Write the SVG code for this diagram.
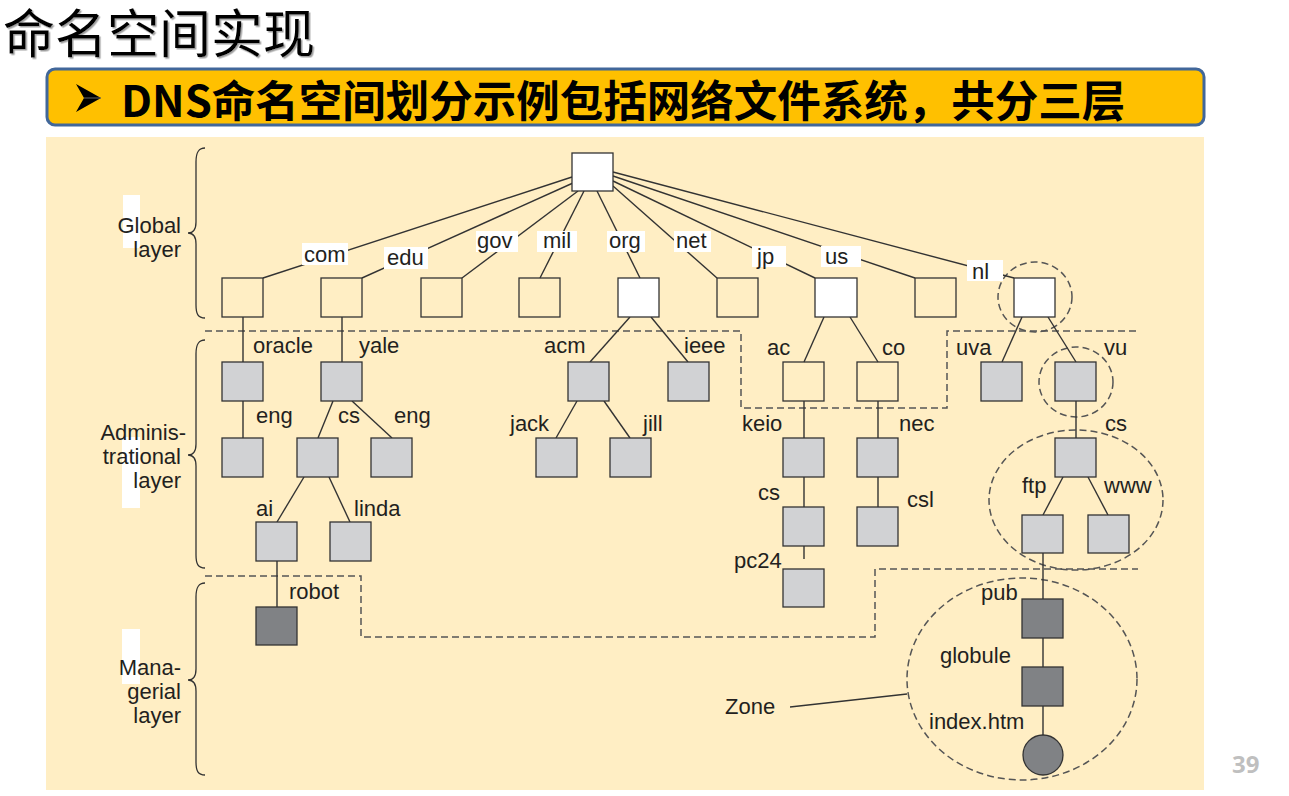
<svg xmlns="http://www.w3.org/2000/svg" width="1289" height="796" viewBox="0 0 1289 796">
  <defs>
    <style>
      .lbl { font-family: "Liberation Sans", Arial, sans-serif; font-size: 22px; fill: #231f20; }
      .lay { font-family: "Liberation Sans", Arial, sans-serif; font-size: 22px; fill: #231f20; text-anchor: end; }
      .bx { stroke: #333; stroke-width: 1.3; }
      .w { fill: #ffffff; }
      .e { fill: none; }
      .g { fill: #d1d2d4; }
      .d { fill: #808285; }
      .cn { stroke: #333; stroke-width: 1.4; fill: none; }
      .dash { stroke: #555; stroke-width: 1.5; fill: none; stroke-dasharray: 7 4; }
      .brace { stroke: #333; stroke-width: 1.3; fill: none; }
      .hl { fill: #ffffff; }
    </style>
    <filter id="shadow" x="-5%" y="-5%" width="110%" height="120%">
      <feDropShadow dx="1.5" dy="1.5" stdDeviation="0.6" flood-color="#888" flood-opacity="0.8"/>
    </filter>
  </defs>

  <rect x="0" y="0" width="1289" height="796" fill="#ffffff"/>

  <!-- slide heading -->
  <text x="3" y="53" font-family="Noto Sans CJK SC, sans-serif" font-size="52" fill="#000" filter="url(#shadow)">命名空间实现</text>

  <!-- banner -->
  <g id="banner">
    <rect x="47" y="69" width="1157" height="56" rx="8" fill="#ffc000" stroke="#41679a" stroke-width="3"/>
    <!-- bullet arrowhead -->
    <polygon points="76,84 101,98 76,112 84,98" fill="#000"/>
    <polyline points="84,98 101,98" stroke="#666" stroke-width="1" fill="none"/>
    <text x="121" y="117" font-family="Noto Sans CJK SC, sans-serif" font-size="43.5" font-weight="bold" fill="#000">DNS命名空间划分示例包括网络文件系统，共分三层</text>
  </g>

  <!-- diagram panel -->
  <rect x="46" y="137" width="1158" height="653" fill="#ffeec4"/>

  <!-- layer captions -->
  <g id="layer-labels">
    <rect class="hl" x="123" y="195" width="17" height="53"/>
    <rect class="hl" x="122" y="437" width="18" height="71"/>
    <rect class="hl" x="122" y="629" width="18" height="55"/>
    <text class="lay" x="181" y="233">Global</text>
    <text class="lay" x="181" y="257">layer</text>
    <text class="lay" x="186" y="440">Adminis-</text>
    <text class="lay" x="181" y="464">trational</text>
    <text class="lay" x="181" y="488">layer</text>
    <text class="lay" x="181" y="675">Mana-</text>
    <text class="lay" x="181" y="699">gerial</text>
    <text class="lay" x="181" y="723">layer</text>
    <path class="brace" d="M205,148 C198,148 196,153 196,162 L196,222 C196,229 194,233 188,233 C194,233 196,237 196,244 L196,305 C196,314 198,318 205,318"/>
    <path class="brace" d="M205,340 C198,340 196,345 196,354 L196,444 C196,451 194,455 188,455 C194,455 196,459 196,466 L196,555 C196,564 198,568 205,568"/>
    <path class="brace" d="M205,583 C198,583 196,588 196,597 L196,669 C196,676 194,680 188,680 C194,680 196,684 196,691 L196,762 C196,771 198,775 205,775"/>
  </g>

  <!-- layer boundaries and zones -->
  <g id="boundaries">
    <path class="dash" d="M205,331 L741,331 L741,408 L947,408 L947,331 L1138,331"/>
    <path class="dash" d="M205,576 L361,576 L361,637 L875,637 L875,569 L1138,569"/>
    <ellipse class="dash" cx="1035" cy="297" rx="37" ry="35"/>
    <ellipse class="dash" cx="1076" cy="382" rx="37" ry="35"/>
    <ellipse class="dash" cx="1076" cy="500" rx="87" ry="70"/>
    <ellipse class="dash" cx="1022" cy="679" rx="115" ry="101"/>
  </g>

  <!-- connectors -->
  <g id="connectors">
    <path class="cn" d="M572,177 L263,278"/>
    <path class="cn" d="M573,183 L362,278"/>
    <path class="cn" d="M578,191 L462,278"/>
    <path class="cn" d="M584,191 L540,278"/>
    <path class="cn" d="M597,191 L640,278"/>
    <path class="cn" d="M613,186 L717,278"/>
    <path class="cn" d="M613,181 L815,278"/>
    <path class="cn" d="M613,176 L915,278"/>
    <path class="cn" d="M613,172 L1014,278"/>
    <path class="cn" d="M243,317 L243,362"/>
    <path class="cn" d="M342,317 L342,362"/>
    <path class="cn" d="M243,401 L243,438"/>
    <path class="cn" d="M333,401 L318,438"/>
    <path class="cn" d="M352,401 L392,438"/>
    <path class="cn" d="M304,477 L277,522"/>
    <path class="cn" d="M329,477 L350,522"/>
    <path class="cn" d="M277,561 L277,607"/>
    <path class="cn" d="M630,317 L590,362"/>
    <path class="cn" d="M651,317 L688,362"/>
    <path class="cn" d="M577,401 L556,438"/>
    <path class="cn" d="M604,401 L630,438"/>
    <path class="cn" d="M824,317 L804,362"/>
    <path class="cn" d="M850,317 L878,362"/>
    <path class="cn" d="M804,401 L804,438"/>
    <path class="cn" d="M878,401 L878,438"/>
    <path class="cn" d="M804,477 L804,507"/>
    <path class="cn" d="M878,477 L878,507"/>
    <path class="cn" d="M804,546 L804,559"/>
    <path class="cn" d="M1022,317 L1002,362"/>
    <path class="cn" d="M1048,317 L1076,362"/>
    <path class="cn" d="M1076,401 L1076,438"/>
    <path class="cn" d="M1063,477 L1043,515"/>
    <path class="cn" d="M1088,477 L1108,515"/>
    <path class="cn" d="M1043,553 L1043,599"/>
    <path class="cn" d="M1043,638 L1043,667"/>
    <path class="cn" d="M1043,706 L1043,735"/>
    <path class="cn" d="M790,707 L907,694"/>
  </g>

  <!-- top-level domain labels with white backing -->
  <g id="tld-labels">
    <rect class="hl" x="302" y="243" width="46" height="22"/>
    <text class="lbl" x="304" y="262">com</text>
    <rect class="hl" x="384" y="247" width="44" height="22"/>
    <text class="lbl" x="387" y="265">edu</text>
    <rect class="hl" x="476" y="231" width="42" height="21"/>
    <text class="lbl" x="477" y="248">gov</text>
    <rect class="hl" x="537" y="231" width="40" height="21"/>
    <text class="lbl" x="543" y="248">mil</text>
    <rect class="hl" x="607" y="231" width="38" height="21"/>
    <text class="lbl" x="609" y="248">org</text>
    <rect class="hl" x="674" y="231" width="37" height="21"/>
    <text class="lbl" x="676" y="248">net</text>
    <rect class="hl" x="752" y="246" width="34" height="21"/>
    <text class="lbl" x="757" y="264">jp</text>
    <rect class="hl" x="821" y="246" width="40" height="21"/>
    <text class="lbl" x="825" y="264">us</text>
    <rect class="hl" x="967" y="260" width="36" height="21"/>
    <text class="lbl" x="972" y="279">nl</text>
  </g>

  <!-- nodes -->
  <g id="root"><rect class="bx w" x="572" y="153" width="41" height="38"/></g>
  <g id="n-com"><rect class="bx e" x="222" y="278" width="41" height="39"/></g>
  <g id="n-edu"><rect class="bx e" x="321" y="278" width="41" height="39"/></g>
  <g id="n-gov"><rect class="bx e" x="421" y="278" width="41" height="39"/></g>
  <g id="n-mil"><rect class="bx e" x="519" y="278" width="41" height="39"/></g>
  <g id="n-org"><rect class="bx w" x="618" y="278" width="41" height="39"/></g>
  <g id="n-net"><rect class="bx e" x="717" y="278" width="41" height="39"/></g>
  <g id="n-jp"><rect class="bx w" x="815" y="278" width="42" height="39"/></g>
  <g id="n-us"><rect class="bx e" x="915" y="278" width="41" height="39"/></g>
  <g id="n-nl"><rect class="bx w" x="1014" y="278" width="41" height="39"/></g>

  <g id="n-oracle"><rect class="bx g" x="222" y="362" width="41" height="39"/><text class="lbl" x="253" y="353">oracle</text></g>
  <g id="n-yale"><rect class="bx g" x="321" y="362" width="41" height="39"/><text class="lbl" x="359" y="353">yale</text></g>
  <g id="n-oracle-eng"><rect class="bx g" x="222" y="438" width="41" height="39"/><text class="lbl" x="256" y="423">eng</text></g>
  <g id="n-yale-cs"><rect class="bx g" x="297" y="438" width="41" height="39"/><text class="lbl" x="338" y="423">cs</text></g>
  <g id="n-yale-eng"><rect class="bx g" x="371" y="438" width="41" height="39"/><text class="lbl" x="394" y="423">eng</text></g>
  <g id="n-ai"><rect class="bx g" x="256" y="522" width="41" height="39"/><text class="lbl" x="256" y="516">ai</text></g>
  <g id="n-linda"><rect class="bx g" x="330" y="522" width="41" height="39"/><text class="lbl" x="354" y="516">linda</text></g>
  <g id="n-robot"><rect class="bx d" x="256" y="607" width="41" height="38"/><text class="lbl" x="289" y="599">robot</text></g>

  <g id="n-acm"><rect class="bx g" x="568" y="362" width="41" height="39"/><text class="lbl" x="544" y="353">acm</text></g>
  <g id="n-ieee"><rect class="bx g" x="668" y="362" width="41" height="39"/><text class="lbl" x="684" y="353">ieee</text></g>
  <g id="n-jack"><rect class="bx g" x="536" y="438" width="41" height="39"/><text class="lbl" x="510" y="431">jack</text></g>
  <g id="n-jill"><rect class="bx g" x="610" y="438" width="41" height="39"/><text class="lbl" x="643" y="431">jill</text></g>

  <g id="n-ac"><rect class="bx e" x="783" y="362" width="41" height="39"/><text class="lbl" x="767" y="355">ac</text></g>
  <g id="n-co"><rect class="bx e" x="857" y="362" width="41" height="39"/><text class="lbl" x="882" y="355">co</text></g>
  <g id="n-keio"><rect class="bx g" x="783" y="438" width="41" height="39"/><text class="lbl" x="742" y="431">keio</text></g>
  <g id="n-nec"><rect class="bx g" x="857" y="438" width="41" height="39"/><text class="lbl" x="899" y="431">nec</text></g>
  <g id="n-keio-cs"><rect class="bx g" x="783" y="507" width="41" height="39"/><text class="lbl" x="758" y="500">cs</text></g>
  <g id="n-csl"><rect class="bx g" x="857" y="507" width="41" height="39"/><text class="lbl" x="907" y="507">csl</text></g>
  <g id="n-pc24"><rect class="bx g" x="783" y="569" width="41" height="38"/><text class="lbl" x="734" y="568">pc24</text></g>

  <g id="n-uva"><rect class="bx g" x="981" y="362" width="41" height="39"/><text class="lbl" x="956" y="355">uva</text></g>
  <g id="n-vu"><rect class="bx g" x="1055" y="362" width="41" height="39"/><text class="lbl" x="1104" y="355">vu</text></g>
  <g id="n-vu-cs"><rect class="bx g" x="1055" y="438" width="41" height="39"/><text class="lbl" x="1105" y="431">cs</text></g>
  <g id="n-ftp"><rect class="bx g" x="1022" y="515" width="41" height="38"/><text class="lbl" x="1022" y="493">ftp</text></g>
  <g id="n-www"><rect class="bx g" x="1088" y="515" width="41" height="38"/><text class="lbl" x="1104" y="493">www</text></g>
  <g id="n-pub"><rect class="bx d" x="1022" y="599" width="41" height="39"/><text class="lbl" x="981" y="600">pub</text></g>
  <g id="n-globule"><rect class="bx d" x="1022" y="667" width="41" height="39"/><text class="lbl" x="940" y="663">globule</text></g>
  <g id="n-index"><circle class="bx d" cx="1043" cy="755" r="20"/><text class="lbl" x="929" y="729">index.htm</text></g>
  <g id="zone-label"><text class="lbl" x="725" y="714">Zone</text></g>

  <!-- page number -->
  <text x="1232" y="773" font-family="Open Sans, Liberation Sans, sans-serif" font-size="24" font-weight="bold" fill="#bfbfbf">39</text>
</svg>
